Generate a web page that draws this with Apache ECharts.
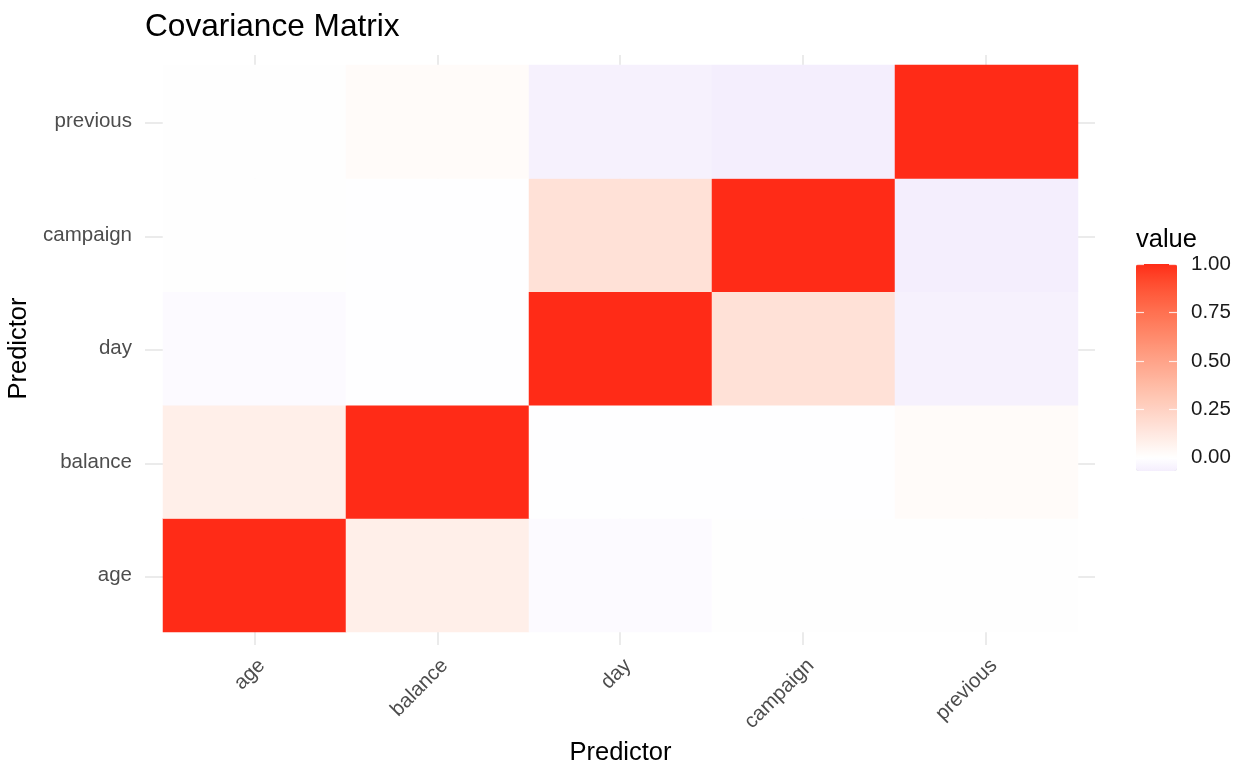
<!DOCTYPE html>
<html>
<head>
<meta charset="utf-8">
<script src="https://cdn.jsdelivr.net/npm/echarts@6/dist/echarts.min.js"></script>
<style>
html,body{margin:0;padding:0;background:#fff;}
#chart{width:1254px;height:774px;}
</style>
</head>
<body>
<div id="chart"></div>
<script>
// ---- data ----
const categories = ['age', 'balance', 'day', 'campaign', 'previous'];
const ageRow      = [1.0000,  0.0900, -0.0180,  0.0010,  0.0005];
const balanceRow  = [0.0900,  1.0000, -0.0020, -0.0040,  0.0260];
const dayRow      = [-0.0180, -0.0020, 1.0000,  0.1620, -0.0590];
const campaignRow = [0.0010, -0.0040,  0.1620,  1.0000, -0.0680];
const previousRow = [0.0005,  0.0260, -0.0590, -0.0680,  1.0000];
const legendTicks = [0, 0.25, 0.5, 0.75, 1];

const rows = [ageRow, balanceRow, dayRow, campaignRow, previousRow];
const heatData = [];
rows.forEach((row, yi) => row.forEach((v, xi) => heatData.push([xi, yi, v])));
const allVals = heatData.map(d => d[2]);
const vMin = Math.min.apply(null, allVals);
const vMax = Math.max.apply(null, allVals);

// ---- colour scale (Lab interpolation, like ggplot gradient2) ----
function toLin(c){c/=255;return c<=0.04045?c/12.92:Math.pow((c+0.055)/1.055,2.4);}
function fromLin(c){const v=c<=0.0031308?12.92*c:1.055*Math.pow(c,1/2.4)-0.055;return Math.round(Math.max(0,Math.min(1,v))*255);}
function hexToLab(h){
  const r=toLin(parseInt(h.substr(1,2),16)),g=toLin(parseInt(h.substr(3,2),16)),b=toLin(parseInt(h.substr(5,2),16));
  let X=(0.4124564*r+0.3575761*g+0.1804375*b)/0.95047;
  let Y=(0.2126729*r+0.7151522*g+0.0721750*b);
  let Z=(0.0193339*r+0.1191920*g+0.9503041*b)/1.08883;
  const f=t=>t>0.008856?Math.cbrt(t):7.787*t+16/116;
  const fx=f(X),fy=f(Y),fz=f(Z);
  return [116*fy-16,500*(fx-fy),200*(fy-fz)];
}
function labToHex(L,a,b){
  const fy=(L+16)/116,fx=fy+a/500,fz=fy-b/200;
  const fi=t=>{const t3=t*t*t;return t3>0.008856?t3:(t-16/116)/7.787;};
  const X=fi(fx)*0.95047,Y=fi(fy),Z=fi(fz)*1.08883;
  const r=3.2404542*X-1.5371385*Y-0.4985314*Z;
  const g=-0.9692660*X+1.8760108*Y+0.0415560*Z;
  const bb=0.0556434*X-0.2040259*Y+1.0572252*Z;
  return '#'+[fromLin(r),fromLin(g),fromLin(bb)].map(v=>v.toString(16).padStart(2,'0')).join('');
}
const labWhite = hexToLab('#ffffff');
const labHigh = hexToLab('#ff2b17');
const labLowAtMin = hexToLab('#f4eefd');
function colorOf(v){
  let t, end;
  if (v >= 0) { t = v / vMax; end = labHigh; }
  else { t = v / vMin; end = labLowAtMin; }
  return labToHex(labWhite[0]+(end[0]-labWhite[0])*t, labWhite[1]+(end[1]-labWhite[1])*t, labWhite[2]+(end[2]-labWhite[2])*t);
}
const nStops = 100;
const colorStops = [];
for (let i = 0; i < nStops; i++) colorStops.push(colorOf(vMin + (vMax - vMin) * i / (nStops - 1)));

const centers = categories.map((c, i) => i);

const chart = echarts.init(document.getElementById('chart'), null, {renderer: 'canvas'});
const font = 'Liberation Sans, Arial, Helvetica, sans-serif';

chart.setOption({
  backgroundColor: '#ffffff',
  animation: false,
  textStyle: {fontFamily: font},
  title: [
    {text: 'Covariance Matrix', left: 145, top: 11, padding: 0,
     textStyle: {fontSize: 31.6, fontWeight: 'normal', color: '#000', fontFamily: font}},
    {text: 'value', left: 1136, top: 227, padding: 0,
     textStyle: {fontSize: 25.5, fontWeight: 'normal', color: '#000', fontFamily: font}}
  ],
  grid: [
    {left: 163, right: 176, top: 65, bottom: 142, outerBoundsMode: 'none'},
    {left: 145, right: 159, top: 55, bottom: 129, outerBoundsMode: 'none'},
    {left: 1136, width: 41, top: 264, height: 207, outerBoundsMode: 'none'}
  ],
  xAxis: [
    {type: 'category', gridIndex: 0, data: categories,
     name: 'Predictor', nameLocation: 'middle', nameGap: 104,
     nameTextStyle: {fontSize: 25.5, color: '#000', fontFamily: font, verticalAlign: 'top'},
     axisLine: {show: false}, axisTick: {show: false}, splitLine: {show: false},
     axisLabel: {rotate: 45, fontSize: 20.5, color: '#4d4d4d', margin: 23, align: 'right', verticalAlign: 'top',
                 fontFamily: font, interval: 0, hideOverlap: false}},
    {type: 'value', gridIndex: 1, min: -0.6, max: 4.6, show: false},
    {type: 'category', gridIndex: 2, data: ['v'], show: false}
  ],
  yAxis: [
    {type: 'category', gridIndex: 0, data: categories,
     name: 'Predictor', nameLocation: 'middle', nameGap: 130, nameRotate: 90,
     nameTextStyle: {fontSize: 25.5, color: '#000', fontFamily: font},
     axisLine: {show: false}, axisTick: {show: false}, splitLine: {show: false},
     axisLabel: {fontSize: 20.5, color: '#4d4d4d', margin: 31, fontFamily: font, interval: 0,
                 padding: [4, 0, 0, 0]}},
    {type: 'value', gridIndex: 1, min: -0.6, max: 4.6, show: false},
    {type: 'value', gridIndex: 2, min: vMin, max: vMax, position: 'right', z: 10,
     axisLine: {show: false}, splitLine: {show: false},
     axisTick: {show: true, inside: true, length: 8, customValues: legendTicks,
                lineStyle: {color: '#ffffff', width: 1.2, opacity: 0.8}},
     axisLabel: {show: true, customValues: legendTicks, margin: 14, fontSize: 20.5, color: '#1a1a1a',
                 fontFamily: font, formatter: v => v.toFixed(2)}},
    {type: 'value', gridIndex: 2, min: vMin, max: vMax, position: 'left', z: 10,
     axisLine: {show: false}, splitLine: {show: false},
     axisTick: {show: true, inside: true, length: 8, customValues: legendTicks,
                lineStyle: {color: '#ffffff', width: 1.2, opacity: 0.8}},
     axisLabel: {show: false}}
  ],
  visualMap: {
    type: 'continuous', seriesIndex: 0, dimension: 2, min: vMin, max: vMax,
    calculable: false, orient: 'vertical', left: 1136, top: 264, padding: 0,
    itemWidth: 41, itemHeight: 207, text: null, showLabel: false,
    inRange: {color: colorStops}
  },
  series: [
    {type: 'heatmap', xAxisIndex: 0, yAxisIndex: 0, data: heatData, z: 5,
     itemStyle: {borderWidth: 0}, emphasis: {disabled: true}, silent: true, progressive: 0},
    {type: 'scatter', xAxisIndex: 1, yAxisIndex: 1, data: [[-5, -5]], symbolSize: 0, z: 1, silent: true,
     markLine: {z: 1, silent: true, symbol: ['none', 'none'], label: {show: false}, animation: false,
       lineStyle: {color: '#ebebeb', width: 2, type: 'solid'},
       data: centers.map(i => ({xAxis: i})).concat(centers.map(i => ({yAxis: i})))}}
  ]
});
</script>
</body>
</html>
